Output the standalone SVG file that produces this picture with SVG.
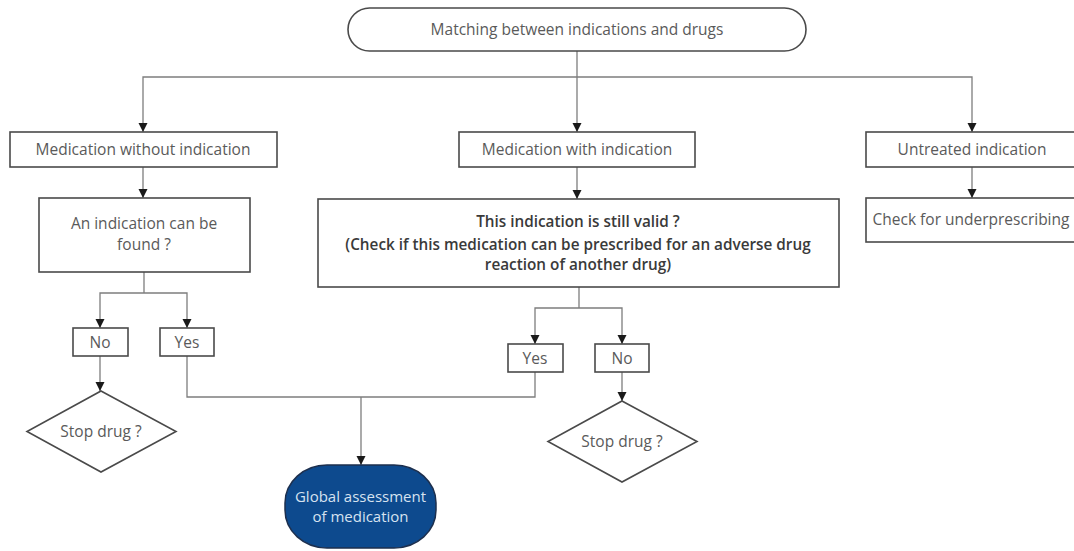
<svg xmlns="http://www.w3.org/2000/svg" width="1074" height="551" viewBox="0 0 1074 551">
<defs>
<marker id="arr" viewBox="0 0 10 10" refX="10" refY="5" markerWidth="9" markerHeight="11" markerUnits="userSpaceOnUse" orient="auto">
<path d="M0,0 L10,5 L0,10 z" fill="#1a1a1a"/>
</marker>
<style>
.box{fill:#ffffff;stroke:#4a4a4a;stroke-width:1.6}
.con{fill:none;stroke:#7d7d7d;stroke-width:1.3}
.arr{marker-end:url(#arr)}
.t{font-family:"Open Sans","Liberation Sans",sans-serif;font-size:15.5px;fill:#5a5a5a;text-anchor:middle}
.tb{font-family:"Open Sans","Liberation Sans",sans-serif;font-size:15.3px;fill:#3a3a3a;text-anchor:middle;font-weight:600}
.tw{font-family:"Open Sans","Liberation Sans",sans-serif;font-size:15px;fill:#d6e2f0;text-anchor:middle}
</style>
</defs>
<rect width="1074" height="551" fill="#ffffff"/>
<g id="connectors">
<path class="con arr" d="M577,51 V132"/>
<path class="con arr" d="M577,77 H143 V132"/>
<path class="con arr" d="M577,77 H972 V132"/>
<path class="con arr" d="M143,167 V198"/>
<path class="con arr" d="M577,167 V199"/>
<path class="con arr" d="M972,167 V198"/>
<path class="con" d="M144,272 V293"/>
<path class="con arr" d="M144,293 H100 V328"/>
<path class="con arr" d="M144,293 H187 V328"/>
<path class="con arr" d="M100,356 V391"/>
<path class="con" d="M187,356 V397 H535 V372"/>
<path class="con arr" d="M361,397 V465"/>
<path class="con" d="M579,287 V308"/>
<path class="con arr" d="M579,308 H535 V344"/>
<path class="con arr" d="M579,308 H622 V344"/>
<path class="con arr" d="M622,372 V401"/>
</g>
<g id="start">
<rect class="box" x="348" y="8" width="458" height="43" rx="21.5" ry="21.5"/>
<text class="t" x="577" y="35">Matching between indications and drugs</text>
</g>
<g id="med-without">
<rect class="box" x="10" y="132" width="267" height="35"/>
<text class="t" x="143" y="155">Medication without indication</text>
</g>
<g id="med-with">
<rect class="box" x="459" y="132" width="236" height="35"/>
<text class="t" x="577" y="155">Medication with indication</text>
</g>
<g id="untreated">
<rect class="box" x="866" y="132" width="214" height="35"/>
<text class="t" x="972" y="155">Untreated indication</text>
</g>
<g id="indication-found">
<rect class="box" x="39" y="198" width="211" height="74"/>
<text class="t" x="144" y="229">An indication can be</text>
<text class="t" x="144" y="250">found ?</text>
</g>
<g id="still-valid">
<rect class="box" x="318" y="199" width="521" height="88"/>
<text class="tb" x="578" y="227">This indication is still valid ?</text>
<text class="tb" x="578" y="249.5">(Check if this medication can be prescribed for an adverse drug</text>
<text class="tb" x="578" y="269.5">reaction of another drug)</text>
</g>
<g id="check-under">
<rect class="box" x="866" y="198" width="214" height="44"/>
<text class="t" x="971" y="225">Check for underprescribing</text>
</g>
<g id="no1">
<rect class="box" x="73" y="328" width="55" height="28"/>
<text class="t" x="100" y="347.5">No</text>
</g>
<g id="yes1">
<rect class="box" x="160" y="328" width="54" height="28"/>
<text class="t" x="187" y="347.5">Yes</text>
</g>
<g id="yes2">
<rect class="box" x="508" y="344" width="55" height="28"/>
<text class="t" x="535" y="363.5">Yes</text>
</g>
<g id="no2">
<rect class="box" x="595" y="344" width="54" height="28"/>
<text class="t" x="622" y="363.5">No</text>
</g>
<g id="stop1">
<path class="box" d="M101,391 L176,431.5 L101,472 L27,431.5 Z"/>
<text class="t" x="101" y="437">Stop drug ?</text>
</g>
<g id="stop2">
<path class="box" d="M622,401 L697,441.5 L622,482 L548,441.5 Z"/>
<text class="t" x="622" y="447">Stop drug ?</text>
</g>
<g id="global">
<rect x="285" y="465" width="151" height="83" rx="42" ry="38" fill="#0d4a8e" stroke="#1c2f4e" stroke-width="1.5"/>
<text class="tw" x="360.5" y="502">Global assessment</text>
<text class="tw" x="360.5" y="522">of medication</text>
</g>
</svg>
